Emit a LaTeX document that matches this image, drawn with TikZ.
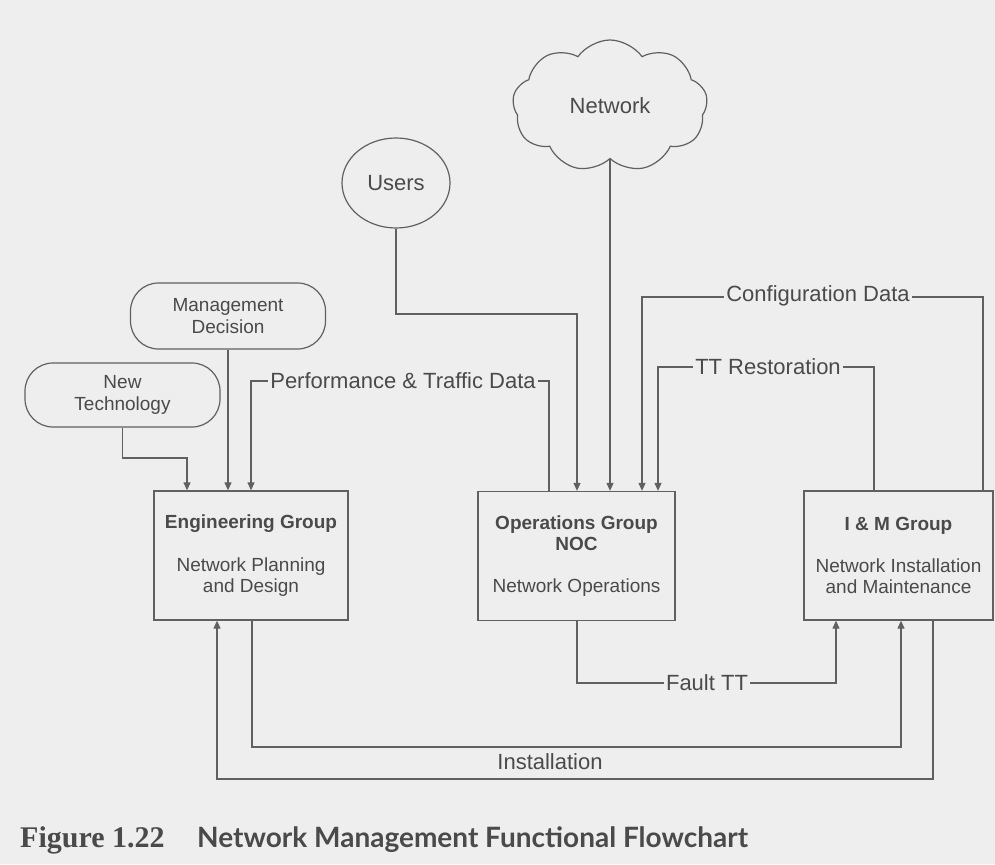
\documentclass[tikz,border=0pt]{standalone}
\usepackage{fontspec}
\setmainfont{Liberation Sans}
\newfontfamily\capserif{Liberation Serif}
\newfontfamily\capsans{Lato}
\usetikzlibrary{arrows.meta,shapes.symbols,shapes.geometric}
\definecolor{bgc}{HTML}{EEEEEE}
\definecolor{ink}{HTML}{4A4A4A}
\definecolor{linec}{HTML}{606060}
\begin{document}
\begin{tikzpicture}[x=1pt,y=-1pt,
  conn/.style={draw=linec, line width=1.2pt},
  arr/.style={conn, -{Triangle[length=8pt,width=7pt]}},
  box/.style={draw=linec, line width=1.3pt, rectangle, minimum height=129pt, inner sep=0pt, align=center, text=ink, font=\fontsize{19}{21}\selectfont},
  stad/.style={draw=linec, line width=1.2pt, rectangle, rounded corners=28pt, minimum width=195pt, inner sep=0pt, align=center, text=ink, font=\fontsize{19}{22}\selectfont},
  lbl/.style={fill=bgc, inner sep=2pt, text=ink, font=\fontsize{22}{24}\selectfont},
  plain/.style={inner sep=0pt, text=ink, font=\fontsize{22}{24}\selectfont},
]
\fill[bgc] (0,0) rectangle (995,864);
\useasboundingbox (0,0) rectangle (995,864);

% nodes
\node[cloud, draw=linec, line width=1.2pt, cloud puffs=9, cloud puff arc=110, aspect=1.45,
      minimum width=195pt, minimum height=132pt, inner sep=0pt, text=ink,
      font=\fontsize{22}{24}\selectfont] (net) at (610,106) {Network};
\node[ellipse, draw=linec, line width=1.2pt, minimum width=108pt, minimum height=90pt,
      inner sep=0pt, text=ink, font=\fontsize{22}{24}\selectfont] (users) at (396,183) {Users};
\node[stad, minimum height=66pt] (mgmt) at (228,316) {Management\\Decision};
\node[stad, minimum height=64pt] (nt) at (122.5,395) {New\\Technology};

\node[box, minimum width=194pt] (eng) at (251,555.5)
  {\textbf{Engineering Group}\\[22pt]Network Planning\\and Design};
\node[box, minimum width=197pt] (ops) at (576.5,556)
  {\textbf{Operations Group}\\\textbf{NOC}\\[21pt]Network Operations};
\node[box, minimum width=189pt] (imb) at (898.5,555.5)
  {\textbf{I \& M Group}\\[21pt]Network Installation\\and Maintenance};

% helper coordinates
\coordinate (ntk) at (187,458);
\coordinate (pf1) at (251,381);
\coordinate (pf2) at (549,381);
\coordinate (us1) at (577,314);
\coordinate (cf1) at (642,297);
\coordinate (cf2) at (983,297);
\coordinate (tt1) at (658,367);
\coordinate (tt2) at (874,367);
\coordinate (ft1) at (577,683);
\coordinate (ft2) at (836,683);
\coordinate (in1) at (252,747);
\coordinate (in2) at (901,747);
\coordinate (in3) at (933,779);
\coordinate (in4) at (217,779);

% connectors into Engineering
\draw[arr] (nt.south) |- (ntk) -- (ntk |- eng.north);
\draw[arr] (mgmt.south) -- (mgmt.south |- eng.north);
\draw[arr] (pf2 |- ops.north) -- (pf2) -- (pf1) -- (pf1 |- eng.north);

% connectors into Operations
\draw[arr] (users.south) |- (us1) -- (us1 |- ops.north);
\draw[arr] (net.south) -- (net.south |- ops.north);
\draw[arr] (cf2 |- imb.north) -- (cf2) -- (cf1) -- (cf1 |- ops.north);
\draw[arr] (tt2 |- imb.north) -- (tt2) -- (tt1) -- (tt1 |- ops.north);

% bottom connectors
\draw[arr] (ft1 |- ops.south) -- (ft1) -- (ft2) -- (ft2 |- imb.south);
\draw[arr] (in1 |- eng.south) -- (in1) -- (in2) -- (in2 |- imb.south);
\draw[arr] (in3 |- imb.south) -- (in3) -- (in4) -- (in4 |- eng.south);

% labels
\node[lbl] (lpf) at (403,381) {Performance \& Traffic Data};
\node[lbl] (lcf) at (818,296) {Configuration Data};
\node[lbl] (ltt) at (768,367) {TT Restoration};
\node[lbl] (lft) at (707,683) {Fault TT};
\node[plain] (lin) at (550,762) {Installation};

% caption
\node[anchor=base west, inner sep=0pt, text=ink, font=\capserif\bfseries\fontsize{30}{32}\selectfont] (cap1) at (20,847) {Figure 1.22};
\node[anchor=base west, inner sep=0pt, text=ink, font=\capsans\bfseries\fontsize{28}{30}\selectfont] (cap2) at (197,847) {Network Management Functional Flowchart};
\end{tikzpicture}
\end{document}
